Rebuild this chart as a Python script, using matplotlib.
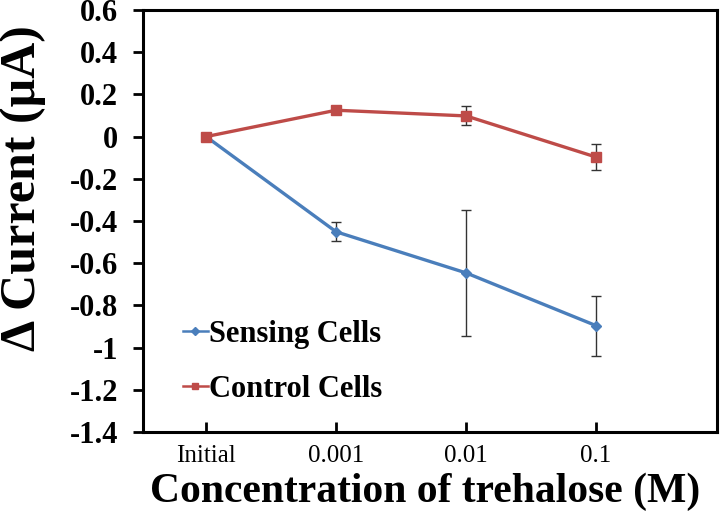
import matplotlib
matplotlib.use("Agg")
import matplotlib.pyplot as plt
from matplotlib.lines import Line2D

categories = ["Initial", "0.001", "0.01", "0.1"]
sensing = [0.0, -0.451, -0.646, -0.896]
sensing_err = [0.0, 0.046, 0.30, 0.142]
control = [0.0, 0.125, 0.098, -0.097]
control_err = [0.0, 0.015, 0.045, 0.061]
yticks = [0.6, 0.4, 0.2, 0, -0.2, -0.4, -0.6, -0.8, -1, -1.2, -1.4]
ytick_labels = ["0.6", "0.4", "0.2", "0", "-0.2", "-0.4", "-0.6", "-0.8", "-1", "-1.2", "-1.4"]

blue = "#4A7EBB"
red = "#BE4B48"
serif = "Liberation Serif"

fig = plt.figure(figsize=(7.2, 5.22), dpi=100)
ax = fig.add_axes([143/720, 1-432/522, (717-143)/720, (432-10)/522])
x = list(range(len(categories)))

ax.errorbar(x, sensing, yerr=sensing_err, color=blue, lw=2.4, marker="D", ms=5.5,
            ecolor="#333333", elinewidth=1.0, capsize=3.5, capthick=1.0, zorder=3)
ax.errorbar(x, control, yerr=control_err, color=red, lw=2.4, marker="s", ms=7.5,
            ecolor="#333333", elinewidth=1.0, capsize=3.5, capthick=1.0, zorder=3)

ax.set_xlim(-0.485, 3.93)
ax.set_ylim(-1.4, 0.6)
ax.set_yticks(yticks)
ax.set_yticklabels(ytick_labels, fontfamily=serif, fontweight="bold", fontsize=22)
ax.set_xticks(x)
ax.set_xticklabels(categories, fontfamily=serif, fontsize=18)
ax.tick_params(axis="y", direction="out", length=7, width=2, pad=11)
ax.tick_params(axis="x", direction="in", length=7, width=2, pad=9)
for s in ax.spines.values():
    s.set_linewidth(2.2)

ax.set_xlabel("Concentration of trehalose (M)", fontfamily=serif, fontweight="bold", fontsize=30)
ax.xaxis.set_label_coords(0.491, -0.142)
ax.xaxis.label.set_va("center")
ax.set_ylabel("Δ Current (μA)", fontfamily=serif, fontweight="bold", fontsize=36)
ax.yaxis.set_label_coords(-0.209, 0.578)
ax.yaxis.label.set_va("center")

handles = [Line2D([], [], color=blue, lw=1.8, marker="D", ms=4),
           Line2D([], [], color=red, lw=1.8, marker="s", ms=5)]
leg = ax.legend(handles, ["Sensing Cells", "Control Cells"], loc="lower left",
                bbox_to_anchor=(0.07, 0.066), frameon=False, borderpad=0,
                borderaxespad=0, handlelength=0.8, handletextpad=0.05,
                labelspacing=0.85,
                prop={"family": serif, "weight": "bold", "size": 22})

fig.savefig("out.png", dpi=100)
